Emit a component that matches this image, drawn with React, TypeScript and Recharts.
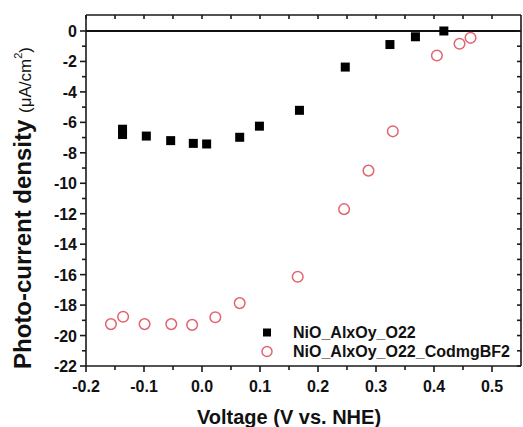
import React from 'react';
import { ScatterChart, Scatter, XAxis, YAxis, ReferenceLine, Legend } from 'recharts';

// NiO_AlxOy_O22 (filled squares)
const squareVoltage = [-0.137, -0.137, -0.096, -0.054, -0.015, 0.008, 0.065, 0.099, 0.168, 0.247, 0.324, 0.368, 0.417];
const squareCurrent = [-6.45, -6.8, -6.9, -7.2, -7.38, -7.42, -6.98, -6.25, -5.21, -2.37, -0.89, -0.38, 0.0];

// NiO_AlxOy_O22_CodmgBF2 (open circles)
const circleVoltage = [-0.157, -0.136, -0.099, -0.053, -0.017, 0.023, 0.065, 0.165, 0.245, 0.287, 0.329, 0.405, 0.444, 0.463];
const circleCurrent = [-19.25, -18.77, -19.25, -19.25, -19.3, -18.8, -17.87, -16.14, -11.7, -9.17, -6.59, -1.61, -0.84, -0.45];

const seriesNames = ['NiO_AlxOy_O22', 'NiO_AlxOy_O22_CodmgBF2'];

const xTicks = [-0.2, -0.15, -0.1, -0.05, 0, 0.05, 0.1, 0.15, 0.2, 0.25, 0.3, 0.35, 0.4, 0.45, 0.5];
const yTicks = [-22, -21, -20, -19, -18, -17, -16, -15, -14, -13, -12, -11, -10, -9, -8, -7, -6, -5, -4, -3, -2, -1, 0];

const FONT = '"Liberation Sans", Arial, sans-serif';
const RED = '#e0656f';
const AXIS = '#1a1a1a';

const tickText = { fontFamily: FONT, fontWeight: 700, fontSize: 16 };

const squareData = squareVoltage.map((v, i) => ({ v, j: squareCurrent[i] }));
const circleData = circleVoltage.map((v, i) => ({ v, j: circleCurrent[i] }));

const isMajorX = (v: number) => Math.abs(Math.round(v * 100)) % 10 === 0;
const isMajorY = (v: number) => Math.abs(Math.round(v)) % 2 === 0;

const BottomTick = (props: any) => {
  const { x, y, payload } = props;
  const major = isMajorX(payload.value);
  return (
    <g>
      <line x1={x} x2={x} y1={y} y2={y + (major ? 6 : 4)} stroke={AXIS} strokeWidth={1.6} />
      {major && (
        <text x={x} y={y + 26} textAnchor="middle" fill="#111" style={tickText}>
          {Number(payload.value).toFixed(1)}
        </text>
      )}
    </g>
  );
};

const LeftTick = (props: any) => {
  const { x, y, payload } = props;
  const major = isMajorY(payload.value);
  return (
    <g>
      <line x1={x} x2={x - (major ? 6 : 4)} y1={y} y2={y} stroke={AXIS} strokeWidth={1.6} />
      {major && (
        <text x={x - 9} y={y + 6} textAnchor="end" fill="#111" style={tickText}>
          {payload.value}
        </text>
      )}
    </g>
  );
};

const TopTick = (props: any) => (
  <line x1={props.x} x2={props.x} y1={props.y} y2={props.y + 4} stroke={AXIS} strokeWidth={1.6} />
);

const RightTick = (props: any) => (
  <line x1={props.x} x2={props.x - 4} y1={props.y} y2={props.y} stroke={AXIS} strokeWidth={1.6} />
);

const SquareShape = ({ cx, cy }: any) => (
  <rect x={cx - 4.5} y={cy - 4.5} width={9} height={9} fill="#000" />
);

const CircleShape = ({ cx, cy }: any) => (
  <circle cx={cx} cy={cy} r={5.3} fill="none" stroke={RED} strokeWidth={1.5} />
);

const NoShape = () => <g />;

const XLabel = () => (
  <text x={289} y={424} textAnchor="middle" fill="#111" style={{ fontFamily: FONT, fontWeight: 700, fontSize: 20 }}>
    Voltage (V vs. NHE)
  </text>
);

const YLabel = () => (
  <text transform="translate(31, 208) rotate(-90)" textAnchor="middle" fill="#111" style={{ fontFamily: FONT }}>
    <tspan style={{ fontSize: 24, fontWeight: 700 }}>Photo-current density </tspan>
    <tspan style={{ fontSize: 17 }}>(μA/cm</tspan>
    <tspan style={{ fontSize: 11 }} dy={-9}>2</tspan>
    <tspan style={{ fontSize: 17 }} dy={9}>)</tspan>
  </text>
);

const LegendBox = () => (
  <div style={{ fontFamily: FONT, fontWeight: 700, fontSize: 16, lineHeight: '19px', color: '#111' }}>
    {seriesNames.map((name, i) => (
      <div key={name} style={{ display: 'flex', alignItems: 'center', height: 19 }}>
        <svg width={35} height={19}>
          {i === 0 ? (
            <rect x={5} y={5.5} width={8} height={8} fill="#000" />
          ) : (
            <circle cx={9} cy={9.5} r={5} fill="none" stroke={RED} strokeWidth={1.5} />
          )}
        </svg>
        <span>{name}</span>
      </div>
    ))}
  </div>
);

export default function App() {
  return (
    <div style={{ position: 'absolute', left: 0, top: 0, background: '#fff' }}>
      <ScatterChart width={523} height={427} margin={{ top: 14, right: 1, bottom: 0, left: 0 }}>
        <XAxis
          dataKey="v"
          type="number"
          domain={[-0.2, 0.55]}
          allowDataOverflow
          ticks={xTicks}
          interval={0}
          tickSize={0}
          tickMargin={0}
          tickLine={false}
          height={61}
          axisLine={{ stroke: AXIS, strokeWidth: 1.6 }}
          tick={<BottomTick />}
          label={<XLabel />}
        />
        <XAxis
          xAxisId="top"
          dataKey="v"
          orientation="top"
          type="number"
          domain={[-0.2, 0.55]}
          allowDataOverflow
          ticks={xTicks}
          interval={0}
          tickSize={0}
          tickMargin={0}
          tickLine={false}
          height={1}
          axisLine={{ stroke: AXIS, strokeWidth: 1.6 }}
          tick={<TopTick />}
        />
        <YAxis
          dataKey="j"
          type="number"
          domain={[-22, 1.05]}
          allowDataOverflow
          ticks={yTicks}
          interval={0}
          tickSize={0}
          tickMargin={0}
          tickLine={false}
          width={86}
          axisLine={{ stroke: AXIS, strokeWidth: 1.6 }}
          tick={<LeftTick />}
          label={<YLabel />}
        />
        <YAxis
          yAxisId="right"
          dataKey="j"
          orientation="right"
          type="number"
          domain={[-22, 1.05]}
          allowDataOverflow
          ticks={yTicks}
          interval={0}
          tickSize={0}
          tickMargin={0}
          tickLine={false}
          width={1}
          axisLine={{ stroke: AXIS, strokeWidth: 1.6 }}
          tick={<RightTick />}
        />
        <ReferenceLine y={0} stroke="#111" strokeWidth={2} />
        <Legend
          layout="vertical"
          verticalAlign="middle"
          align="center"
          wrapperStyle={{ left: 258, top: 323, width: 262 }}
          content={() => <LegendBox />}
        />
        <Scatter
          xAxisId="top"
          yAxisId="right"
          data={squareData}
          shape={<NoShape />}
          legendType="none"
          isAnimationActive={false}
        />
        <Scatter name={seriesNames[1]} data={circleData} shape={<CircleShape />} isAnimationActive={false} />
        <Scatter name={seriesNames[0]} data={squareData} shape={<SquareShape />} isAnimationActive={false} />
      </ScatterChart>
    </div>
  );
}
